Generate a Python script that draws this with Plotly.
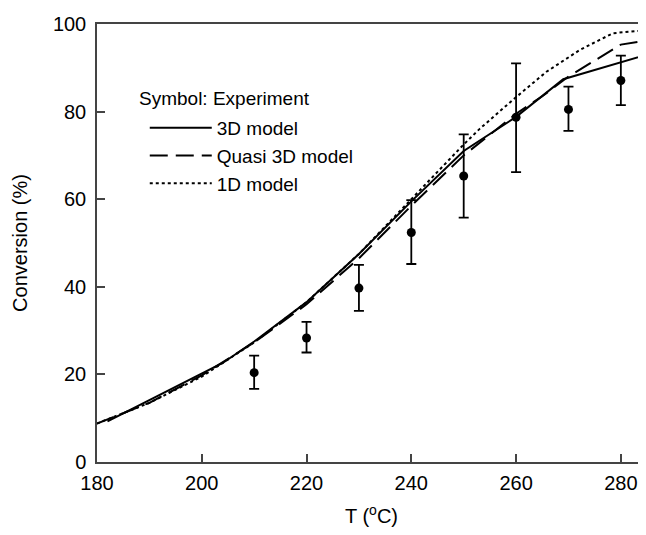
import plotly.graph_objects as go

# Experimental data
T_exp = [210, 220, 230, 240, 250, 260, 270, 280]
conv_exp = [20.4, 28.3, 39.7, 52.4, 65.3, 78.7, 80.5, 87.1]
err_up = [3.9, 3.7, 5.3, 7.4, 9.5, 12.3, 5.2, 5.7]
err_down = [3.7, 3.3, 5.2, 7.2, 9.5, 12.5, 4.9, 5.6]

# 3D model
T_3d = [182, 190, 204, 210, 220, 230, 240, 250, 260, 269, 285]
conv_3d = [9.3, 14.2, 22.6, 27.5, 36.5, 47.5, 59.5, 71.0, 78.8, 87.4, 93.0]

# Quasi 3D model
T_q3d = [180, 190, 200, 210, 220, 230, 240, 250, 260, 265, 270, 276, 280, 285]
conv_q3d = [8.8, 13.5, 19.8, 27.3, 36.0, 46.5, 58.5, 70.0, 79.5, 83.5, 88.0, 92.5, 95.3, 96.2]

# 1D model
T_1d = [180, 190, 200, 210, 220, 230, 240, 250, 253, 259.4, 265.8, 272.2, 278.5, 285]
conv_1d = [8.8, 13.5, 19.5, 27.3, 36.5, 47.5, 60.0, 72.5, 76.0, 82.7, 89.1, 94.1, 97.9, 98.6]

x_ticks = [180, 200, 220, 240, 260, 280]
y_ticks = [0, 20, 40, 60, 80, 100]

FONT = "Liberation Sans, Arial, sans-serif"
FS = 20
LFS = 19

fig = go.Figure()
fig.add_trace(go.Scatter(x=T_3d, y=conv_3d, mode="lines", name="3D model",
                         line=dict(color="black", width=2, dash="solid")))
fig.add_trace(go.Scatter(x=T_q3d, y=conv_q3d, mode="lines", name="Quasi 3D model",
                         line=dict(color="black", width=2, dash="18px,8px")))
fig.add_trace(go.Scatter(x=T_1d, y=conv_1d, mode="lines", name="1D model",
                         line=dict(color="black", width=2, dash="3px,3px")))
fig.add_trace(go.Scatter(x=T_exp, y=conv_exp, mode="markers", name="Experiment",
                         showlegend=False,
                         marker=dict(color="black", size=9),
                         error_y=dict(type="data", symmetric=False, array=err_up,
                                      arrayminus=err_down, color="black",
                                      thickness=1.8, width=5)))

fig.add_annotation(text="Symbol: Experiment", xref="paper", yref="paper",
                   x=0.073, y=0.829, xanchor="left", yanchor="middle",
                   showarrow=False, font=dict(size=LFS))

fig.update_layout(
    width=638, height=519,
    margin=dict(l=89, r=0, t=16, b=65),
    paper_bgcolor="white", plot_bgcolor="white",
    font=dict(family=FONT, size=FS, color="black"),
    showlegend=True,
    legend=dict(
        x=0.087, y=0.806, xanchor="left", yanchor="top",
        bgcolor="rgba(0,0,0,0)", font=dict(size=LFS),
        itemwidth=62, tracegroupgap=0,
    ),
    xaxis=dict(
        range=[180, 284.8], tickvals=x_ticks, ticks="inside", ticklen=8,
        tickwidth=1.5, tickcolor="#444", showline=True, linecolor="#444",
        linewidth=1.5, mirror=True, showgrid=False, zeroline=False,
        ticklabelstandoff=2,
        tickfont=dict(size=FS), title=dict(text="T (<sup>o</sup>C)", font=dict(size=FS), standoff=20),
    ),
    yaxis=dict(
        range=[0, 100], tickvals=y_ticks, ticks="inside", ticklen=8,
        tickwidth=1.5, tickcolor="#444", showline=True, linecolor="#444",
        linewidth=1.5, mirror=False, showgrid=False, zeroline=False,
        ticklabelstandoff=5,
        tickfont=dict(size=FS), title=dict(text="Conversion (%)", font=dict(size=FS), standoff=20),
    ),
)

fig.write_html("out.html")
